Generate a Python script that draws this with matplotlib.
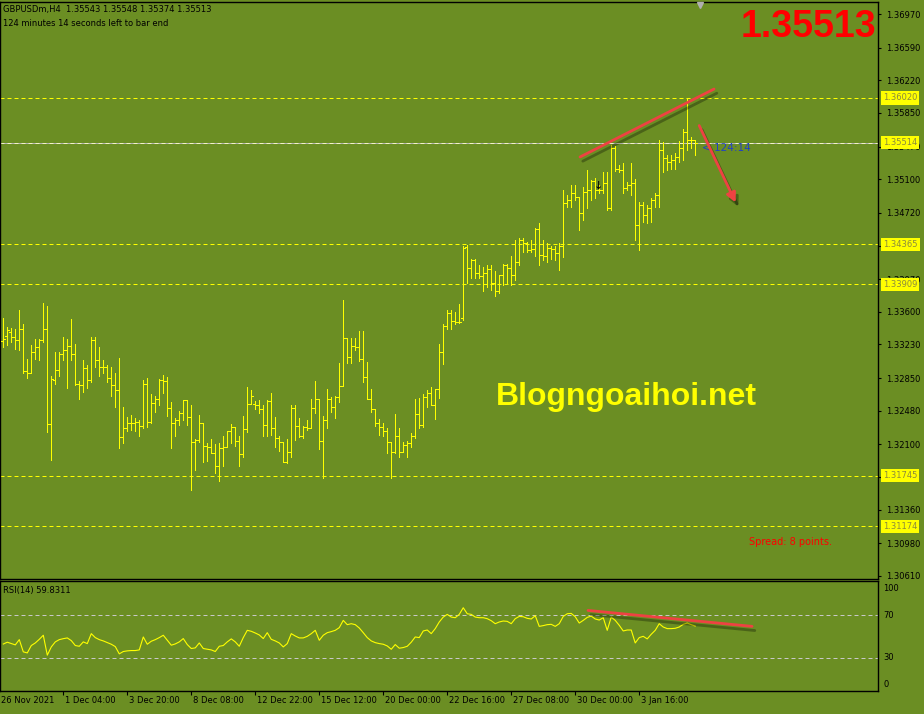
import numpy as np
import matplotlib.pyplot as plt
import matplotlib.transforms as mtransforms
import matplotlib.patheffects as pe

# GBPUSDm H4 bars, oldest first
opens = [1.3327, 1.3333, 1.3337, 1.3332, 1.3328, 1.3341, 1.3293, 1.3291, 1.3314, 1.3320,
         1.3328, 1.3341, 1.3233, 1.3283, 1.3294, 1.3312, 1.3317, 1.3321, 1.3312, 1.3278,
         1.3277, 1.3296, 1.3283, 1.3328, 1.3306, 1.3298, 1.3298, 1.3285, 1.3277, 1.3272,
         1.3218, 1.3229, 1.3234, 1.3234, 1.3235, 1.3231, 1.3278, 1.3235, 1.3257, 1.3261,
         1.3283, 1.3282, 1.3251, 1.3234, 1.3237, 1.3245, 1.3260, 1.3241, 1.3213, 1.3215,
         1.3234, 1.3208, 1.3207, 1.3200, 1.3185, 1.3206, 1.3207, 1.3225, 1.3230, 1.3214,
         1.3199, 1.3227, 1.3256, 1.3256, 1.3255, 1.3250, 1.3232, 1.3259, 1.3229, 1.3217,
         1.3213, 1.3190, 1.3201, 1.3251, 1.3231, 1.3219, 1.3230, 1.3229, 1.3251, 1.3261,
         1.3214, 1.3238, 1.3261, 1.3252, 1.3264, 1.3276, 1.3330, 1.3309, 1.3321, 1.3320,
         1.3307, 1.3286, 1.3261, 1.3250, 1.3234, 1.3230, 1.3225, 1.3213, 1.3201, 1.3220,
         1.3201, 1.3209, 1.3212, 1.3220, 1.3244, 1.3232, 1.3264, 1.3268, 1.3255, 1.3273,
         1.3314, 1.3344, 1.3359, 1.3350, 1.3349, 1.3353, 1.3433, 1.3410, 1.3419, 1.3404,
         1.3401, 1.3404, 1.3408, 1.3393, 1.3383, 1.3402, 1.3413, 1.3410, 1.3402, 1.3416,
         1.3441, 1.3438, 1.3430, 1.3431, 1.3454, 1.3424, 1.3423, 1.3432, 1.3431, 1.3427,
         1.3434, 1.3483, 1.3487, 1.3495, 1.3490, 1.3472, 1.3496, 1.3498, 1.3508, 1.3498,
         1.3498, 1.3506, 1.3478, 1.3545, 1.3522, 1.3520, 1.3500, 1.3504, 1.3506, 1.3458,
         1.3481, 1.3470, 1.3478, 1.3487, 1.3492, 1.3543, 1.3534, 1.3530, 1.3532, 1.3535,
         1.3545, 1.3563, 1.3554, 1.35543]
highs = [1.3353, 1.3343, 1.3342, 1.3341, 1.3362, 1.3346, 1.3307, 1.3322, 1.3329, 1.3329,
         1.3370, 1.3366, 1.3287, 1.3314, 1.3315, 1.3331, 1.3329, 1.3352, 1.3323, 1.3282,
         1.3305, 1.3300, 1.3332, 1.3332, 1.3320, 1.3305, 1.3300, 1.3298, 1.3291, 1.3308,
         1.3252, 1.3241, 1.3243, 1.3240, 1.3238, 1.3283, 1.3285, 1.3267, 1.3265, 1.3284,
         1.3288, 1.3286, 1.3258, 1.3240, 1.3248, 1.3260, 1.3260, 1.3255, 1.3216, 1.3243,
         1.3234, 1.3212, 1.3216, 1.3210, 1.3212, 1.3220, 1.3225, 1.3233, 1.3230, 1.3219,
         1.3242, 1.3275, 1.3271, 1.3259, 1.3260, 1.3254, 1.3260, 1.3268, 1.3241, 1.3220,
         1.3213, 1.3216, 1.3255, 1.3255, 1.3240, 1.3231, 1.3237, 1.3261, 1.3282, 1.3261,
         1.3242, 1.3273, 1.3264, 1.3265, 1.3302, 1.3373, 1.3330, 1.3330, 1.3330, 1.3338,
         1.3338, 1.3303, 1.3273, 1.3250, 1.3239, 1.3234, 1.3228, 1.3213, 1.3244, 1.3229,
         1.3213, 1.3214, 1.3223, 1.3261, 1.3262, 1.3267, 1.3271, 1.3275, 1.3273, 1.3324,
         1.3346, 1.3362, 1.3362, 1.3360, 1.3369, 1.3435, 1.3436, 1.3420, 1.3420, 1.3413,
         1.3411, 1.3413, 1.3413, 1.3406, 1.3402, 1.3414, 1.3414, 1.3423, 1.3441, 1.3444,
         1.3444, 1.3439, 1.3441, 1.3455, 1.3460, 1.3441, 1.3438, 1.3435, 1.3435, 1.3438,
         1.3498, 1.3492, 1.3504, 1.3504, 1.3490, 1.3501, 1.3520, 1.3509, 1.3511, 1.3504,
         1.3518, 1.3518, 1.3549, 1.3548, 1.3526, 1.3528, 1.3507, 1.3528, 1.3510, 1.3484,
         1.3484, 1.3481, 1.3489, 1.3495, 1.3554, 1.3552, 1.3537, 1.3537, 1.3540, 1.3553,
         1.3567, 1.3602, 1.3558, 1.35548]
lows = [1.3320, 1.3322, 1.3326, 1.3318, 1.3317, 1.3291, 1.3285, 1.3291, 1.3307, 1.3305,
        1.3326, 1.3224, 1.3192, 1.3278, 1.3287, 1.3305, 1.3274, 1.3305, 1.3277, 1.3261,
        1.3269, 1.3274, 1.3280, 1.3297, 1.3287, 1.3291, 1.3280, 1.3265, 1.3252, 1.3206,
        1.3212, 1.3225, 1.3226, 1.3225, 1.3220, 1.3229, 1.3230, 1.3234, 1.3247, 1.3254,
        1.3268, 1.3242, 1.3206, 1.3219, 1.3232, 1.3238, 1.3232, 1.3158, 1.3181, 1.3213,
        1.3190, 1.3191, 1.3200, 1.3178, 1.3169, 1.3185, 1.3207, 1.3212, 1.3208, 1.3185,
        1.3196, 1.3224, 1.3256, 1.3250, 1.3245, 1.3219, 1.3220, 1.3221, 1.3207, 1.3203,
        1.3190, 1.3189, 1.3196, 1.3215, 1.3218, 1.3217, 1.3226, 1.3229, 1.3245, 1.3205,
        1.3172, 1.3229, 1.3247, 1.3240, 1.3258, 1.3276, 1.3302, 1.3302, 1.3317, 1.3304,
        1.3280, 1.3261, 1.3247, 1.3231, 1.3221, 1.3219, 1.3200, 1.3172, 1.3200, 1.3196,
        1.3201, 1.3196, 1.3207, 1.3217, 1.3229, 1.3230, 1.3252, 1.3254, 1.3239, 1.3262,
        1.3301, 1.3341, 1.3341, 1.3346, 1.3347, 1.3351, 1.3393, 1.3398, 1.3398, 1.3398,
        1.3384, 1.3388, 1.3385, 1.3378, 1.3381, 1.3390, 1.3391, 1.3390, 1.3396, 1.3413,
        1.3428, 1.3428, 1.3428, 1.3423, 1.3413, 1.3419, 1.3416, 1.3420, 1.3419, 1.3407,
        1.3422, 1.3479, 1.3479, 1.3487, 1.3453, 1.3464, 1.3478, 1.3487, 1.3489, 1.3494,
        1.3494, 1.3475, 1.3475, 1.3519, 1.3518, 1.3494, 1.3498, 1.3492, 1.3441, 1.3430,
        1.3462, 1.3461, 1.3462, 1.3479, 1.3479, 1.3518, 1.3520, 1.3522, 1.3522, 1.3530,
        1.3532, 1.3543, 1.3545, 1.35374]
closes = [1.3329, 1.3339, 1.3332, 1.3328, 1.3341, 1.3293, 1.3291, 1.3314, 1.3320, 1.3328,
          1.3341, 1.3233, 1.3284, 1.3294, 1.3312, 1.3317, 1.3321, 1.3312, 1.3278, 1.3277,
          1.3296, 1.3283, 1.3328, 1.3306, 1.3298, 1.3298, 1.3285, 1.3277, 1.3272, 1.3218,
          1.3229, 1.3234, 1.3234, 1.3235, 1.3231, 1.3278, 1.3235, 1.3257, 1.3261, 1.3283,
          1.3282, 1.3251, 1.3234, 1.3237, 1.3245, 1.3260, 1.3241, 1.3213, 1.3215, 1.3234,
          1.3208, 1.3207, 1.3200, 1.3185, 1.3206, 1.3207, 1.3225, 1.3230, 1.3214, 1.3199,
          1.3227, 1.3256, 1.3265, 1.3255, 1.3250, 1.3232, 1.3259, 1.3229, 1.3217, 1.3213,
          1.3190, 1.3201, 1.3251, 1.3231, 1.3219, 1.3230, 1.3229, 1.3251, 1.3261, 1.3214,
          1.3238, 1.3261, 1.3252, 1.3264, 1.3276, 1.3330, 1.3309, 1.3321, 1.3320, 1.3307,
          1.3286, 1.3261, 1.3250, 1.3234, 1.3230, 1.3225, 1.3213, 1.3201, 1.3220, 1.3201,
          1.3209, 1.3212, 1.3220, 1.3244, 1.3232, 1.3264, 1.3268, 1.3255, 1.3273, 1.3314,
          1.3344, 1.3359, 1.3350, 1.3349, 1.3349, 1.3432, 1.3410, 1.3419, 1.3404, 1.3401,
          1.3404, 1.3408, 1.3393, 1.3383, 1.3402, 1.3413, 1.3410, 1.3402, 1.3416, 1.3441,
          1.3438, 1.3430, 1.3431, 1.3454, 1.3424, 1.3423, 1.3432, 1.3431, 1.3427, 1.3434,
          1.3483, 1.3487, 1.3495, 1.3490, 1.3472, 1.3496, 1.3498, 1.3508, 1.3498, 1.3498,
          1.3506, 1.3478, 1.3545, 1.3522, 1.3520, 1.3500, 1.3504, 1.3506, 1.3458, 1.3481,
          1.3470, 1.3478, 1.3487, 1.3492, 1.3543, 1.3534, 1.3530, 1.3532, 1.3535, 1.3545,
          1.3563, 1.3554, 1.3554, 1.35513]

# RSI(14) values under each bar
rsi = [43.0, 44.7, 43.4, 42.2, 47.1, 35.7, 34.7, 41.6, 44.0, 47.4,
       51.2, 32.6, 40.3, 45.0, 47.1, 48.0, 48.7, 46.2, 41.6, 40.9,
       45.0, 43.4, 52.7, 49.0, 47.1, 45.9, 44.3, 42.8, 40.6, 33.8,
       36.0, 36.6, 36.9, 36.9, 37.5, 49.6, 42.8, 45.6, 47.1, 49.0,
       51.2, 46.5, 41.9, 43.1, 45.0, 48.1, 42.5, 38.8, 39.4, 44.0,
       38.8, 38.1, 37.5, 36.0, 40.9, 41.6, 45.0, 47.8, 45.0, 40.9,
       49.0, 55.8, 54.9, 53.3, 51.5, 48.1, 53.6, 47.4, 45.9, 44.0,
       40.3, 43.4, 52.7, 50.5, 48.7, 48.7, 50.2, 52.7, 55.8, 46.5,
       51.2, 53.6, 54.6, 55.8, 58.3, 65.1, 61.1, 62.0, 61.1, 58.0,
       53.6, 49.0, 45.9, 44.3, 43.4, 42.8, 41.2, 38.1, 42.5, 39.1,
       39.7, 40.9, 44.7, 49.6, 49.0, 55.2, 56.1, 52.7, 57.4, 63.6,
       68.2, 70.7, 68.2, 67.6, 70.7, 76.9, 71.3, 70.7, 68.2, 67.6,
       67.6, 66.7, 64.8, 62.0, 63.6, 64.5, 64.2, 62.0, 66.7, 68.8,
       68.5, 67.0, 66.4, 69.5, 59.5, 60.2, 61.1, 61.4, 59.5, 62.0,
       68.8, 71.3, 71.6, 68.5, 62.6, 65.1, 67.9, 69.1, 66.4, 65.4,
       67.6, 55.8, 68.2, 65.1, 60.5, 55.2, 56.1, 56.1, 44.0, 49.0,
       50.2, 47.8, 52.1, 55.8, 62.0, 58.9, 57.4, 57.4, 57.7, 58.9,
       61.4, 62.6, 61.1, 59.8311]

price_ticks = [1.36970, 1.36590, 1.36220, 1.35850, 1.35470, 1.35100, 1.34720, 1.34350, 1.33970,
               1.33600, 1.33230, 1.32850, 1.32480, 1.32100, 1.31730, 1.31360, 1.30980, 1.30610]
# tick labels that sit fully under a level box in the reference
hidden_ticks = [1.34350, 1.31730]
level_lines = [1.36020, 1.34365, 1.33909, 1.31745, 1.31174]
bid_line = 1.35514
time_labels = ['26 Nov 2021', '1 Dec 04:00', '3 Dec 20:00', '8 Dec 08:00', '12 Dec 22:00',
               '15 Dec 12:00', '20 Dec 00:00', '22 Dec 16:00', '27 Dec 08:00', '30 Dec 00:00',
               '3 Jan 16:00']
time_label_bars = [-1, 15, 31, 47, 63, 79, 95, 111, 127, 143, 159]

BG = '#6B8E23'
BAR = '#FFFF00'
RED = '#EE4242'
FONT = 'DejaVu Sans'

fig = plt.figure(figsize=(9.24, 7.14), dpi=100, facecolor=BG)
ax = fig.add_axes([0, 135 / 714, 878 / 924, 577 / 714], facecolor=BG)
ax2 = fig.add_axes([0, 23 / 714, 878 / 924, 110 / 714], facecolor=BG)

x = np.arange(len(closes))

# OHLC bars, 1 px wide
ax.vlines(x, lows, highs, color=BAR, lw=0.72, antialiased=False, zorder=3)
ax.hlines(opens, x - 0.5, x, color=BAR, lw=0.72, antialiased=False, zorder=3)
ax.hlines(closes, x, x + 0.5, color=BAR, lw=0.72, antialiased=False, zorder=3)

ax.set_xlim(-0.825, 218.7)
ax.set_ylim(1.30576, 1.37106)

# horizontal levels
for p in level_lines:
    ax.axhline(p, color=BAR, lw=0.72, ls=(0, (4, 3)), zorder=2)
ax.axhline(bid_line, color='#B4B4B4', lw=0.72, zorder=2)
ax.axhline(bid_line, color='#F2F2C8', lw=0.72, ls=(0, (4, 3)), zorder=2)

# price scale
ax.yaxis.tick_right()
ax.set_yticks(price_ticks)
ax.set_yticklabels(['' if v in hidden_ticks else f'{v:.5f}' for v in price_ticks], family=FONT)
ax.tick_params(axis='y', length=2.5, width=0.8, color='k', labelsize=6, pad=3, labelcolor='k')
ax.set_xticks([])

trans = mtransforms.blended_transform_factory(ax.transAxes, ax.transData)
for p in level_lines + [bid_line]:
    ax.text(1.0 + 5 / 878, p, f'{p:.5f}', transform=trans, fontsize=6, family=FONT,
            color='#8a8a3c', va='center', ha='left', clip_on=False, zorder=10,
            bbox=dict(boxstyle='square,pad=0.25', fc='#FFFF00', ec='none'))

for s in ax.spines.values():
    s.set_color('k')
    s.set_linewidth(1.0)

# header texts
ax.text(3 / 878, 0.9827, f'GBPUSDm,H4  {opens[-1]:.5f} {highs[-1]:.5f} {lows[-1]:.5f} {closes[-1]:.5f}',
        transform=ax.transAxes, fontsize=6, family=FONT, color='k', va='baseline')
ax.text(3 / 878, 0.9584, '124 minutes 14 seconds left to bar end',
        transform=ax.transAxes, fontsize=6, family=FONT, color='k', va='baseline')
ax.text(0.9977, 0.9393, f'{closes[-1]:.5f}', transform=ax.transAxes, ha='right', va='baseline',
        fontsize=27, fontweight='bold', family='Liberation Sans', color='#FF0000')
ax.text(0.7136, 0.3016, 'Blogngoaihoi.net', transform=ax.transAxes, ha='center', va='baseline',
        fontsize=23, fontweight='bold', family='Liberation Sans', color='#FFFF00')
ax.text(749 / 878, 0.0589, 'Spread: 8 points.', transform=ax.transAxes, ha='left', va='baseline',
        fontsize=7, family=FONT, color='#FF0000')
ax.text(x[-1] + 1.6, closes[-1], '< 124:14', ha='left', va='top', fontsize=7.5,
        family=FONT, color='#2040C8')

# chart shift marker
ax.plot([x[-1] + 1.2], [0.994], transform=mtransforms.blended_transform_factory(ax.transData, ax.transAxes),
        marker='v', ms=5, color='#B0B0B0', clip_on=False, zorder=5)

# small black arrow object
ax.text(148.9, 1.3502, '\u2193', ha='center', va='center', fontsize=8, family=FONT,
        color='k', zorder=4)

# hand drawn red trend lines
shadow = [pe.SimpleLineShadow(offset=(2, -3), shadow_color='black', alpha=0.3), pe.Normal()]
ax.plot([144.2, 177.7], [1.35352, 1.36121], color=RED, lw=2, solid_capstyle='round',
        path_effects=shadow, zorder=6)
ax.annotate('', xy=(183.4, 1.34808), xytext=(173.7, 1.35736),
            arrowprops=dict(arrowstyle='-|>', color=RED, lw=2, mutation_scale=14,
                            path_effects=shadow), zorder=6)

# RSI panel
ax2.plot(x, rsi, color=BAR, lw=0.8, zorder=3)
ax2.axhline(70, color='#C8C8C8', lw=0.72, ls=(0, (4, 3)))
ax2.axhline(30, color='#C8C8C8', lw=0.72, ls=(0, (4, 3)))
ax2.plot([146.2, 187.2], [74.4, 59.5], color=RED, lw=2, solid_capstyle='round',
         path_effects=shadow, zorder=6)
ax2.set_xlim(-0.825, 218.7)
ax2.set_ylim(-0.9, 101.9)
ax2.set_yticks([])
ax2.set_xticks(time_label_bars[1:])
ax2.set_xticklabels([])
ax2.tick_params(axis='x', direction='out', length=3, width=0.8, color='k')
for s in ax2.spines.values():
    s.set_color('k')
    s.set_linewidth(1.0)

trans2 = mtransforms.blended_transform_factory(ax2.transAxes, ax2.transData)
for val, lab in [(94.9, '100'), (70, '70'), (30, '30'), (5.6, '0')]:
    ax2.text(1.0 + 5 / 878, val, lab, transform=trans2, fontsize=6, family=FONT,
             color='k', va='center', ha='left', clip_on=False)
ax2.text(3 / 878, 0.891, f'RSI(14) {rsi[-1]:.4f}', transform=ax2.transAxes, fontsize=6,
         family=FONT, color='k', va='baseline')

trans3 = mtransforms.blended_transform_factory(ax2.transData, ax2.transAxes)
for b, lab in zip(time_label_bars, time_labels):
    ax2.text(b + 0.5, -0.109, lab, transform=trans3, fontsize=6, family=FONT,
             color='k', va='baseline', ha='left', clip_on=False)

fig.savefig('out.png', dpi=100, facecolor=BG)
